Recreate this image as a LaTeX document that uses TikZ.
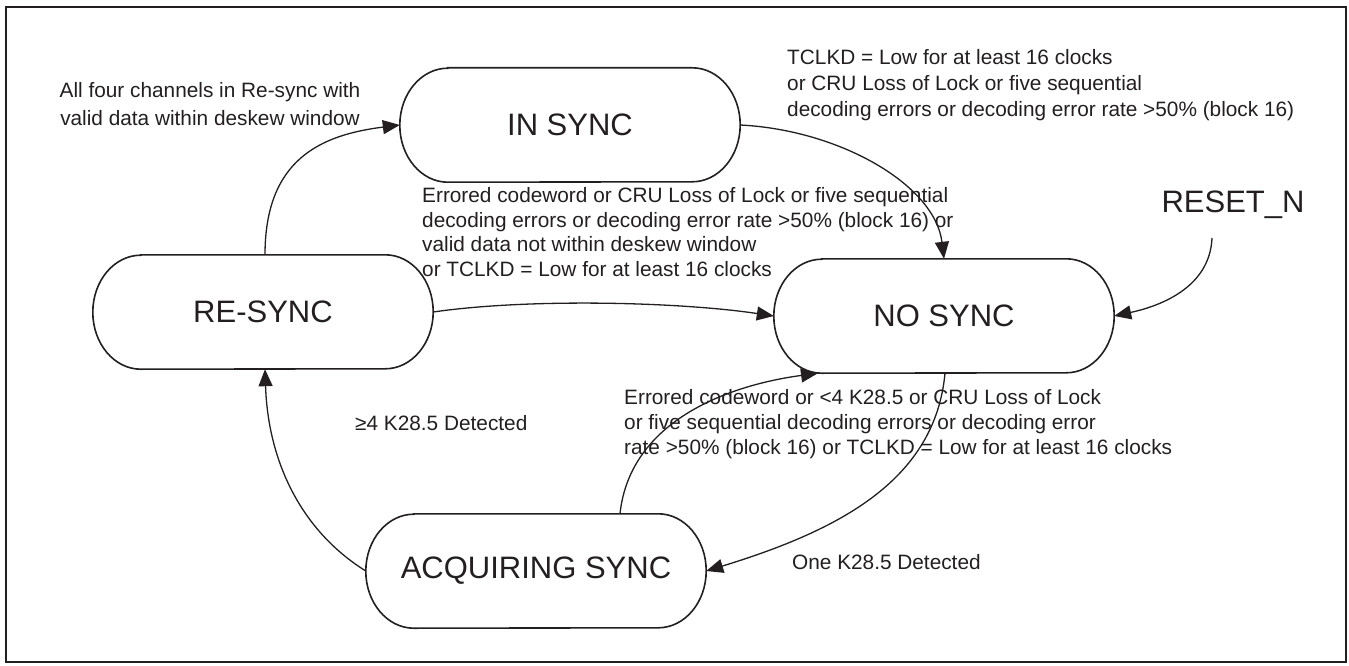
\documentclass[tikz,border=0pt]{standalone}
\usepackage{fontspec}
\setmainfont{Liberation Sans}
\usetikzlibrary{arrows.meta}
\definecolor{ink}{HTML}{231F20}
\newcommand\stadium[1]{%
  \draw[outline] ([xshift=48pt]#1.north west) -- ([xshift=-48pt]#1.north east)
    arc[start angle=90,end angle=-90,x radius=48pt,y radius=57pt]
    -- ([xshift=48pt]#1.south west)
    arc[start angle=270,end angle=90,x radius=48pt,y radius=57pt] -- cycle;}
\begin{document}
\begin{tikzpicture}[x=1pt,y=-1pt,
  state/.style={minimum width=340pt,minimum height=114pt,inner sep=0pt,text=ink,
    font=\fontsize{31}{36}\selectfont},
  lbl/.style={inner sep=0pt,text=ink,align=left},
  outline/.style={draw=ink,line width=1.6pt},
  conn/.style={draw=ink,line width=1.3pt,-{Triangle[length=17pt,width=14pt]}}]
\useasboundingbox (0,0) rectangle (1349,666);
\draw[draw=ink,line width=2pt] (6,7) rectangle (1346,662);

% states
\node[state] (insync) at (570,125) {IN SYNC};
\node[state] (resync) at (263,312) {RE-SYNC};
\node[state] (nosync) at (944,316) {NO SYNC};
\node[state] (acq) at (536,571) {ACQUIRING SYNC};
\stadium{insync}
\stadium{resync}
\stadium{nosync}
\stadium{acq}

\node[inner sep=0pt,text=ink,font=\fontsize{31}{36}\selectfont,anchor=base] (reset) at (1233,212) {RESET\_N};
\coordinate (rstart) at (1212,238);

% labels
\node[lbl,align=center,anchor=north,font=\fontsize{20.8}{28}\selectfont] (l1) at (210,82)
  {All four channels in Re-sync with\\valid data within deskew window};
\node[lbl,anchor=north west,font=\fontsize{20.8}{26}\selectfont] (l2) at (787,49)
  {TCLKD = Low for at least 16 clocks\\or CRU Loss of Lock or five sequential\\decoding errors or decoding error rate >50\% (block 16)};
\node[lbl,anchor=north west,font=\fontsize{20.8}{24.8}\selectfont] (l3) at (422,187)
  {Errored codeword or CRU Loss of Lock or five sequential\\decoding errors or decoding error rate >50\% (block 16) or\\valid data not within deskew window\\or TCLKD = Low for at least 16 clocks};
\node[lbl,anchor=west,font=\fontsize{20.8}{25}\selectfont] (l4) at (355,423) {≥4 K28.5 Detected};
\node[lbl,anchor=north west,font=\fontsize{20.8}{25}\selectfont] (l5) at (624,389)
  {Errored codeword or <4 K28.5 or CRU Loss of Lock\\or five sequential decoding errors or decoding error\\rate >50\% (block 16) or TCLKD = Low for at least 16 clocks};
\node[lbl,anchor=west,font=\fontsize{20.8}{25}\selectfont] (l6) at (792,562) {One K28.5 Detected};

% connectors
\draw[conn] ([xshift=2pt]resync.north) .. controls (265,160) and (320,135) .. (insync.west);
\draw[conn] (insync.east) .. controls (840,130) and (935,185) .. (nosync.north);
\draw[conn] (resync.east) .. controls (530,298) and (680,302) .. (nosync.west);
\draw[conn] (rstart) .. controls (1210,285) and (1165,305) .. (nosync.east);
\draw[conn] ([xshift=1pt]nosync.south) .. controls (935,480) and (840,530) .. (acq.east);
\draw[conn] ([xshift=84pt]acq.north) .. controls (630,420) and (730,385) .. ([xshift=-126pt]nosync.south);
\draw[conn] (acq.west) .. controls (300,530) and (268,460) .. ([xshift=2pt]resync.south);
\end{tikzpicture}
\end{document}
